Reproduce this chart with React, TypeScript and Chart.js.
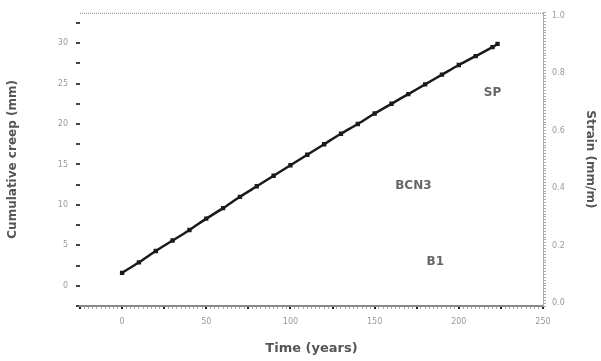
import React, { useEffect, useRef } from "react";
import { Chart, registerables } from "chart.js";

Chart.register(...registerables);

// Time (x) values and cumulative values (left axis)
const timeValues = [0, 10, 20, 30, 40, 50, 60, 70, 80, 90, 100, 110, 120, 130, 140, 150, 160, 170, 180, 190, 200, 210, 220, 223];
const cumulativeValues = [1.6, 2.9, 4.3, 5.6, 6.9, 8.3, 9.6, 11.0, 12.3, 13.6, 14.9, 16.2, 17.5, 18.8, 20.0, 21.3, 22.5, 23.7, 24.9, 26.1, 27.3, 28.4, 29.5, 29.9];

// Tick labels
const xTickLabels = ["0", "50", "100", "150", "200", "250"];
const leftTickLabels = ["0", "5", "10", "15", "20", "25", "30"];
const rightTickLabels = ["0.0", "0.2", "0.4", "0.6", "0.8", "1.0"];

// Annotation labels
const annotationTexts = ["SP", "BCN3", "B1"];
const annotationX = [220, 173, 186];
const annotationY = [23.9, 12.3, 2.9];

const titleX = "Time (years)";
const titleLeft = "Cumulative creep (mm)";
const titleRight = "Strain (mm/m)";

export default function App() {
  const ref = useRef<HTMLCanvasElement | null>(null);

  useEffect(() => {
    document.body.style.margin = "0";
    const canvas = ref.current;
    if (!canvas) return;

    const extras = {
      id: "extras",
      afterDraw(chart: any) {
        const { ctx, chartArea, scales } = chart;
        ctx.save();
        ctx.strokeStyle = "#888";
        ctx.lineWidth = 1;
        ctx.setLineDash([1, 1]);
        ctx.beginPath();
        ctx.moveTo(chartArea.left, chartArea.top + 0.5);
        ctx.lineTo(chartArea.right, chartArea.top + 0.5);
        ctx.stroke();
        ctx.setLineDash([]);
        ctx.fillStyle = "#666";
        ctx.font = "bold 12px 'DejaVu Sans'";
        ctx.textAlign = "center";
        ctx.textBaseline = "middle";
        annotationTexts.forEach((t, i) => {
          ctx.fillText(t, scales.x.getPixelForValue(annotationX[i]), scales.y.getPixelForValue(annotationY[i]));
        });
        ctx.restore();
      },
    };

    const chart = new Chart(canvas, {
      type: "line",
      data: {
        datasets: [
          {
            data: timeValues.map((t, i) => ({ x: t, y: cumulativeValues[i] })),
            borderColor: "#1a1a1a",
            backgroundColor: "#1a1a1a",
            borderWidth: 2.5,
            pointRadius: 1.3,
            pointStyle: "rect",
            tension: 0.3,
            yAxisID: "y",
          },
        ],
      },
      options: {
        responsive: true,
        maintainAspectRatio: false,
        animation: false,
        layout: { padding: { top: 10, left: 0, right: 0, bottom: 0 } },
        plugins: { legend: { display: false }, tooltip: { enabled: false } },
        scales: {
          x: {
            type: "linear",
            min: -25,
            max: 250,
            afterFit: (s: any) => { s.height = 55; },
            ticks: {
              stepSize: 2.5,
              autoSkip: false,
              maxRotation: 0,
              padding: 8,
              color: "#999",
              font: { size: 8, family: "DejaVu Sans" },
              callback: (v: any) => {
                const n = Math.round(Number(v) * 10) / 10;
                if (n >= 0 && Math.abs(n % 50) < 1e-6) return xTickLabels[n / 50];
                return "";
              },
            },
            grid: {
              drawOnChartArea: false,
              drawTicks: true,
              tickLength: 3,
              color: (c: any) => {
                const n = Math.round(Number(c.tick?.value) * 10) / 10;
                return Math.abs(n % 25) < 1e-6 ? "#222" : "#aaa";
              },
              lineWidth: (c: any) => {
                const n = Math.round(Number(c.tick?.value) * 10) / 10;
                return Math.abs(n % 25) < 1e-6 ? 2 : 1;
              },
            },
            border: { display: true, color: "#888", width: 2 },
            title: {
              display: true,
              text: titleX,
              color: "#555",
              font: { size: 13, weight: "bold", family: "DejaVu Sans" },
              padding: { top: 4, bottom: 5 },
            },
          },
          y: {
            type: "linear",
            position: "left",
            min: -2.5,
            max: 33.75,
            afterFit: (s: any) => { s.width = 80; },
            afterBuildTicks: (s: any) => { s.ticks = s.ticks.filter((t: any) => t.value <= 32.5); },
            ticks: {
              stepSize: 2.5,
              autoSkip: false,
              padding: 8,
              color: "#999",
              font: { size: 8, family: "DejaVu Sans" },
              callback: (v: any) => {
                const n = Math.round(Number(v) * 10) / 10;
                if (n >= 0 && Math.abs(n % 5) < 1e-6) return leftTickLabels[n / 5];
                return "";
              },
            },
            grid: { drawOnChartArea: false, drawTicks: true, tickLength: 4, color: "#444", lineWidth: 2 },
            border: { display: false },
            title: {
              display: true,
              text: titleLeft,
              color: "#555",
              font: { size: 12, weight: "bold", family: "DejaVu Sans" },
              padding: { top: 6, bottom: 6 },
            },
          },
          y2: {
            type: "linear",
            position: "right",
            min: -0.01,
            max: 1.01,
            afterFit: (s: any) => { s.width = 58; },
            ticks: {
              stepSize: 0.01,
              autoSkip: false,
              padding: 6,
              color: "#999",
              font: { size: 8, family: "DejaVu Sans" },
              callback: (v: any) => {
                const n = Math.round(Number(v) * 100);
                if (n >= 0 && n % 20 === 0) return rightTickLabels[n / 20];
                return "";
              },
            },
            grid: { drawOnChartArea: false, drawTicks: true, tickLength: 3, color: "#aaa", lineWidth: 1 },
            border: { display: true, color: "#aaa", width: 1 },
            title: {
              display: true,
              text: titleRight,
              color: "#555",
              font: { size: 12, weight: "bold", family: "DejaVu Sans" },
              padding: { top: 4, bottom: 6 },
            },
          },
        },
      },
      plugins: [extras],
    } as any);

    return () => chart.destroy();
  }, []);

  return (
    <div style={{ position: "relative", width: 601, height: 361 }}>
      <canvas ref={ref} />
    </div>
  );
}
